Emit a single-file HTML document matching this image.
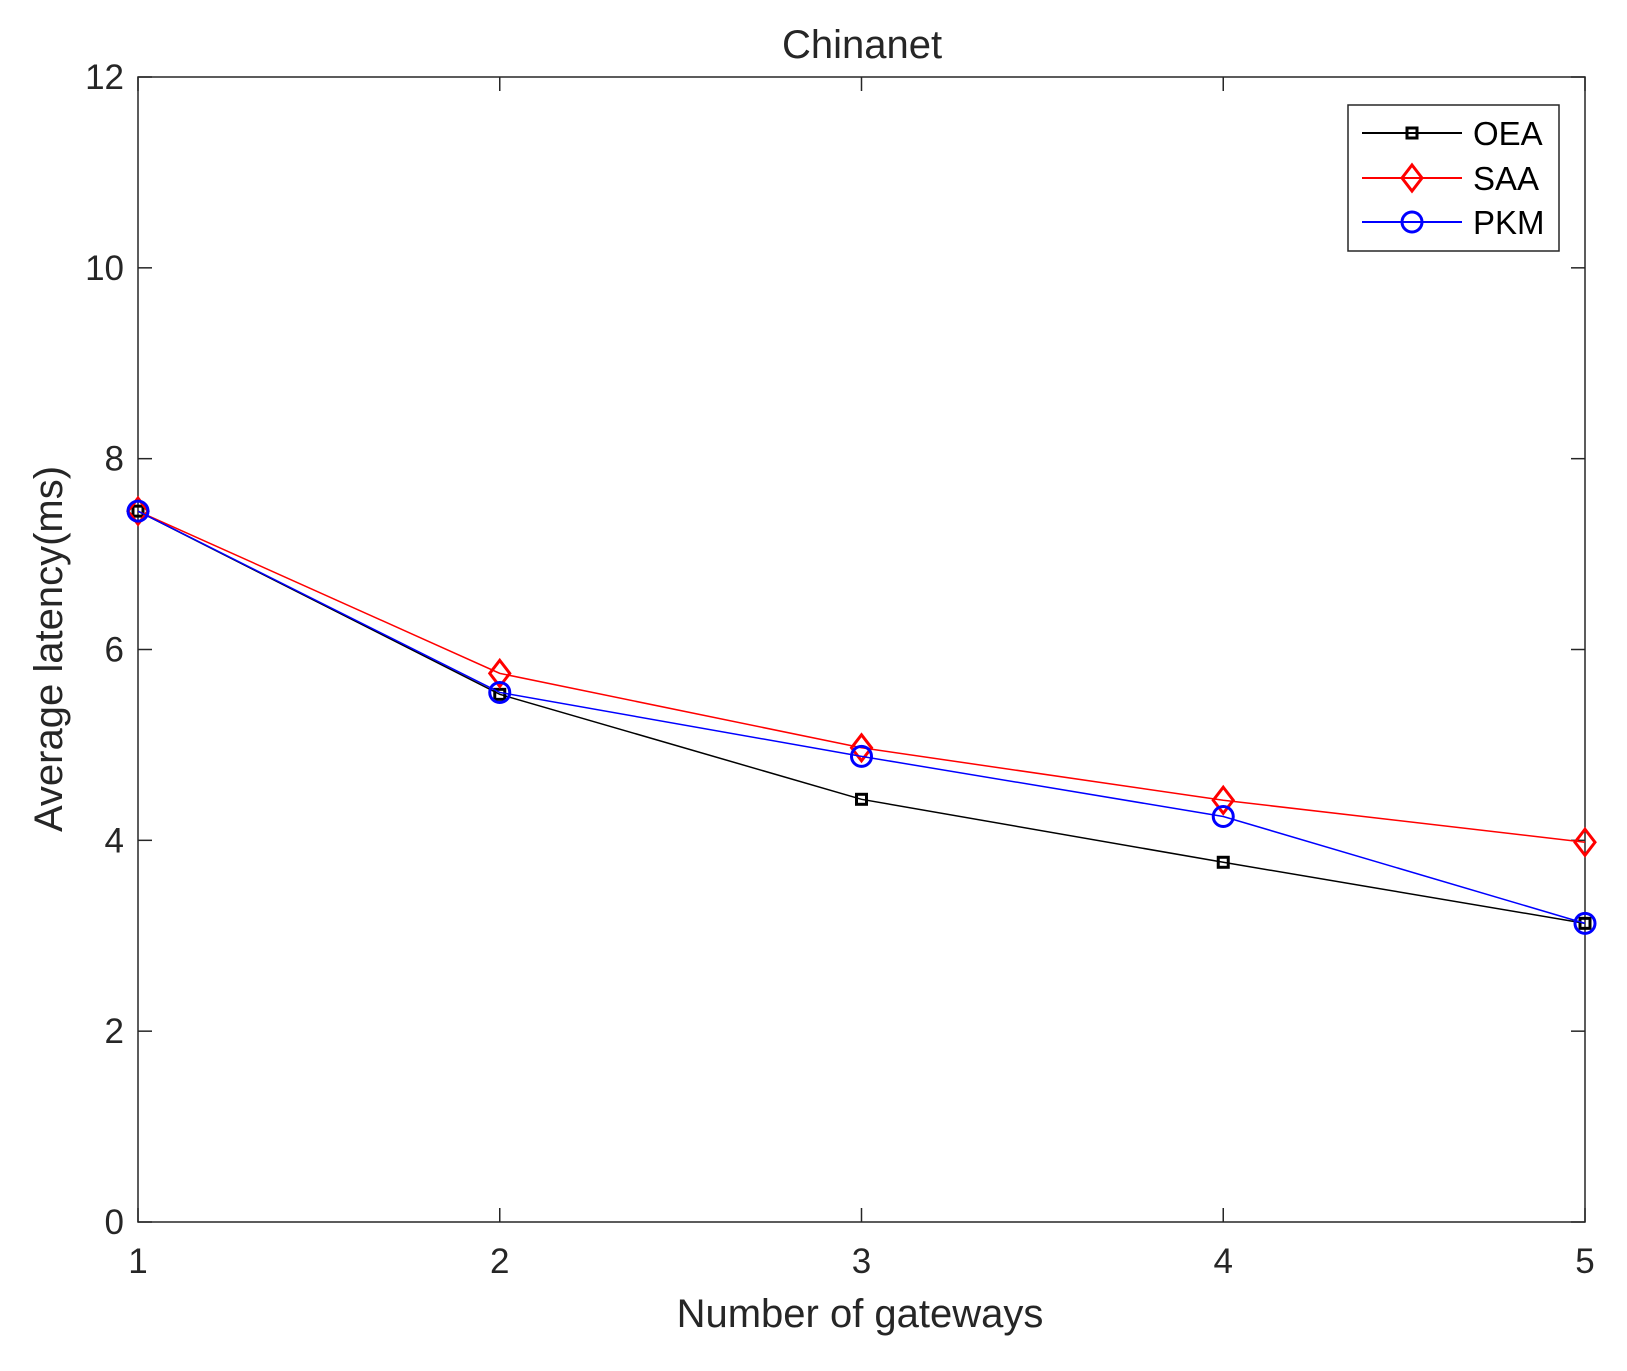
<!DOCTYPE html>
<html><head><meta charset="utf-8"><style>
html,body{margin:0;padding:0;background:#fff;}
svg{display:block;font-family:"Liberation Sans",sans-serif;}
</style></head><body>
<svg id="chart" width="1627" height="1371">
<g id="axes-g"></g>
<g id="series-g"></g>
<g>
<rect x="1348" y="105" width="211" height="146" fill="#fff" stroke="#262626" stroke-width="1.5"/>
<line x1="1362" y1="133" x2="1462" y2="133" stroke="#000" stroke-width="2"/>
<rect x="1407" y="128" width="10" height="10" fill="none" stroke="#000" stroke-width="3"/>
<text x="1473" y="145" font-size="33">OEA</text>
<line x1="1362" y1="178" x2="1462" y2="178" stroke="#f00" stroke-width="2"/>
<polygon points="1412,165 1422,178 1412,191 1402,178" fill="none" stroke="#f00" stroke-width="3"/>
<text x="1473" y="190" font-size="33">SAA</text>
<line x1="1362" y1="222" x2="1462" y2="222" stroke="#00f" stroke-width="2"/>
<circle cx="1412" cy="222" r="10" fill="none" stroke="#00f" stroke-width="3"/>
<text x="1473" y="234" font-size="33">PKM</text>
</g>
<text x="862" y="58" font-size="40" text-anchor="middle" fill="#262626">Chinanet</text>
<text x="860" y="1327" font-size="40" text-anchor="middle" fill="#262626">Number of gateways</text>
<text transform="translate(62,649) rotate(-90)" font-size="40" text-anchor="middle" fill="#262626">Average latency(ms)</text>
</svg>
<script>
const categories = [1, 2, 3, 4, 5];
const oeaValues = [7.45, 5.53, 4.43, 3.77, 3.13];
const saaValues = [7.45, 5.75, 4.97, 4.42, 3.98];
const pkmValues = [7.45, 5.55, 4.88, 4.25, 3.13];
const yTicks = [0, 2, 4, 6, 8, 10, 12];
const xTicks = [1, 2, 3, 4, 5];

const L = 138, R = 1585, T = 77, B = 1222;
const xs = v => L + (v - 1) / 4 * (R - L);
const ys = v => B - v / 12 * (B - T);
const NS = 'http://www.w3.org/2000/svg';
const axes = document.getElementById('axes-g');
const ser = document.getElementById('series-g');
function mk(tag, attrs, parent) {
  const e = document.createElementNS(NS, tag);
  for (const k in attrs) e.setAttribute(k, attrs[k]);
  parent.appendChild(e);
  return e;
}
const frame = mk('rect', {x: L, y: T, width: R - L, height: B - T, fill: 'none', stroke: '#262626', 'stroke-width': 1.5}, axes);


yTicks.forEach(v => {
  const y = ys(v);
  mk('line', {x1: L, x2: L + 14, y1: y, y2: y, stroke: '#262626', 'stroke-width': 1.5}, axes);
  mk('line', {x1: R, x2: R - 14, y1: y, y2: y, stroke: '#262626', 'stroke-width': 1.5}, axes);
  const t = mk('text', {x: L - 14, y: y + 12, 'font-size': 35, 'text-anchor': 'end', fill: '#262626'}, axes);
  t.textContent = v;
  
  
});
xTicks.forEach(v => {
  const x = xs(v);
  mk('line', {x1: x, x2: x, y1: B, y2: B - 14, stroke: '#262626', 'stroke-width': 1.5}, axes);
  mk('line', {x1: x, x2: x, y1: T, y2: T + 14, stroke: '#262626', 'stroke-width': 1.5}, axes);
  const t = mk('text', {x: x, y: 1273, 'font-size': 35, 'text-anchor': 'middle', fill: '#262626'}, axes);
  t.textContent = v;
  
  
});
function series(vals, color, marker, name) {
  const g = mk('g', {}, ser);
  
  
  mk('polyline', {points: vals.map((v, i) => xs(categories[i]) + ',' + ys(v)).join(' '), fill: 'none', stroke: color, 'stroke-width': 1.5}, g);
  vals.forEach((v, i) => {
    const x = xs(categories[i]), y = ys(v);
    let m;
    if (marker === 'square') m = mk('rect', {x: x - 5, y: y - 5, width: 10, height: 10, fill: 'none', stroke: color, 'stroke-width': 3}, g);
    else if (marker === 'diamond') m = mk('polygon', {points: `${x},${y-13} ${x+10},${y} ${x},${y+13} ${x-10},${y}`, fill: 'none', stroke: color, 'stroke-width': 3}, g);
    else m = mk('circle', {cx: x, cy: y, r: 10, fill: 'none', stroke: color, 'stroke-width': 3}, g);
    
    
  });
}
series(oeaValues, '#000', 'square', 'series-oea');
series(saaValues, '#f00', 'diamond', 'series-saa');
series(pkmValues, '#00f', 'circle', 'series-pkm');
</script>
</body></html>
